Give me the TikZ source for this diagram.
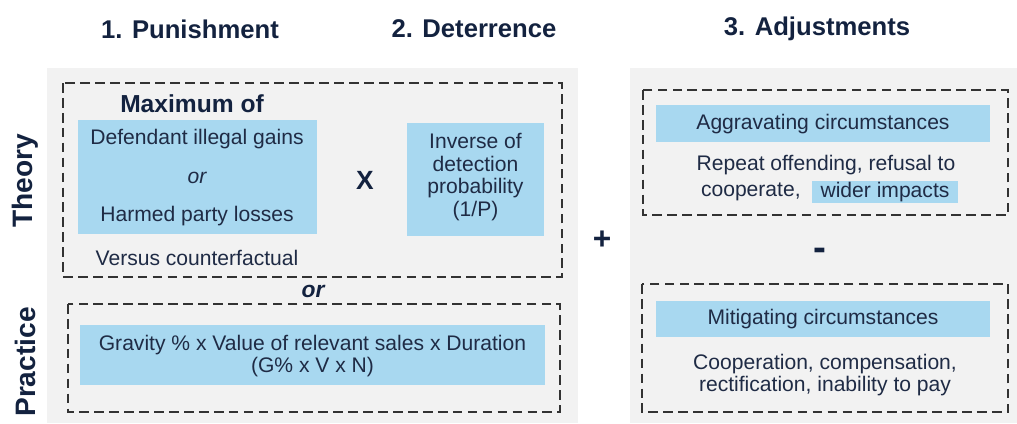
\documentclass[tikz,border=0pt]{standalone}
\usepackage{fontspec}
\setmainfont{Liberation Sans}
\usepackage{xcolor}
\usepackage{tikz}
\usetikzlibrary{positioning}

\definecolor{navy}{HTML}{13223F}
\definecolor{bodytext}{HTML}{1F2B45}
\definecolor{panelgrey}{HTML}{F2F2F2}
\definecolor{lightblue}{HTML}{A8D8F0}
\definecolor{dashgrey}{HTML}{333333}

\begin{document}
\begin{tikzpicture}[x=0.02cm, y=-0.02cm,
  heading/.style={font=\fontsize{14.6}{16}\selectfont\bfseries, text=navy},
  sidelabel/.style={font=\fontsize{16}{18}\selectfont\bfseries, text=navy, rotate=90},
  body/.style={font=\fontsize{12}{13}\selectfont, text=bodytext, align=center, inner sep=0pt},
  sign/.style={font=\fontsize{18}{20}\selectfont\bfseries, text=navy},
  panel/.style={fill=panelgrey},
  dashbox/.style={draw=dashgrey, line width=1.4pt, dash pattern=on 5.5pt off 3pt},
  bluebox/.style 2 args={fill=lightblue, inner sep=0pt, minimum width=#1*0.02cm, minimum height=#2*0.02cm}]

\useasboundingbox (0,0) rectangle (1017,423);

% grey panels
\fill[panel] (47,68) rectangle (578,423);
\fill[panel] (630,68) rectangle (1017,423);

% headings
\node[heading] (punish) at (190,29) {1. Punishment};
\node[heading] (deter) at (474,29) {2. Deterrence};
\node[heading] (adjust) at (817,29) {3. Adjustments};

\node[sidelabel] (theory) at (25,181) {Theory};
\node[sidelabel] (practice) at (25,362) {Practice};

% theory
\draw[dashbox] (63,83) rectangle (562,277);
\node[heading, font=\fontsize{14}{16}\selectfont\bfseries] (maxof) at (192,104) {Maximum of};
\node[bluebox={239}{114}] (maxbox) at (197.5,177) {};
\node[body] (gains) at (197,139) {Defendant illegal gains};
\node[body, font=\fontsize{12}{13}\selectfont\itshape] (ormax) at (197,178) {or};
\node[body] (losses) at (197,216) {Harmed party losses};
\node[body] (versus) at (197,258) {Versus counterfactual};

\node[body, font=\fontsize{15}{17}\selectfont\bfseries, text=navy] (times) at (365,180) {X};
\node[bluebox={137}{113}] (invbox) at (475.5,179.5) {};
\node[body] (inverse) at (475.5,177) {Inverse of\\detection\\probability\\(1/P)};

\node[heading, font=\fontsize{13}{15}\selectfont\bfseries\itshape] (orpractice) at (313,291) {or};

% practice
\draw[dashbox] (68,304) rectangle (560,412);
\node[bluebox={465}{60}] (gravbox) at (312.5,355) {};
\node[body] (gravity) at (312.5,356) {Gravity \% x Value of relevant sales x Duration\\(G\% x V x N)};

\node[sign] (plus) at (602,240) {+};

% adjustments
\draw[dashbox] (643,90) rectangle (1008,215);
\node[bluebox={334}{37}] (aggbar) at (823,123.5) {};
\node[body] (aggravating) at (823,124) {Aggravating circumstances};
\node[body] (repeat) at (826,165) {Repeat offending, refusal to};
\node[bluebox={146}{22}] (widerbox) at (885,192) {};
\node[body] (wider) at (885,192) {wider impacts};
\node[body, anchor=east] (coop) at (801,192) {cooperate,};

\node[sign, font=\fontsize{22}{24}\selectfont\bfseries] (minus) at (820,254) {-};

\draw[dashbox] (642,284) rectangle (1008,412);
\node[bluebox={334}{36}] (mitbar) at (823,319) {};
\node[body] (mitigating) at (823,319) {Mitigating circumstances};
\node[body] (cooperation) at (825,375) {Cooperation, compensation,\\rectification, inability to pay};

\end{tikzpicture}
\end{document}
